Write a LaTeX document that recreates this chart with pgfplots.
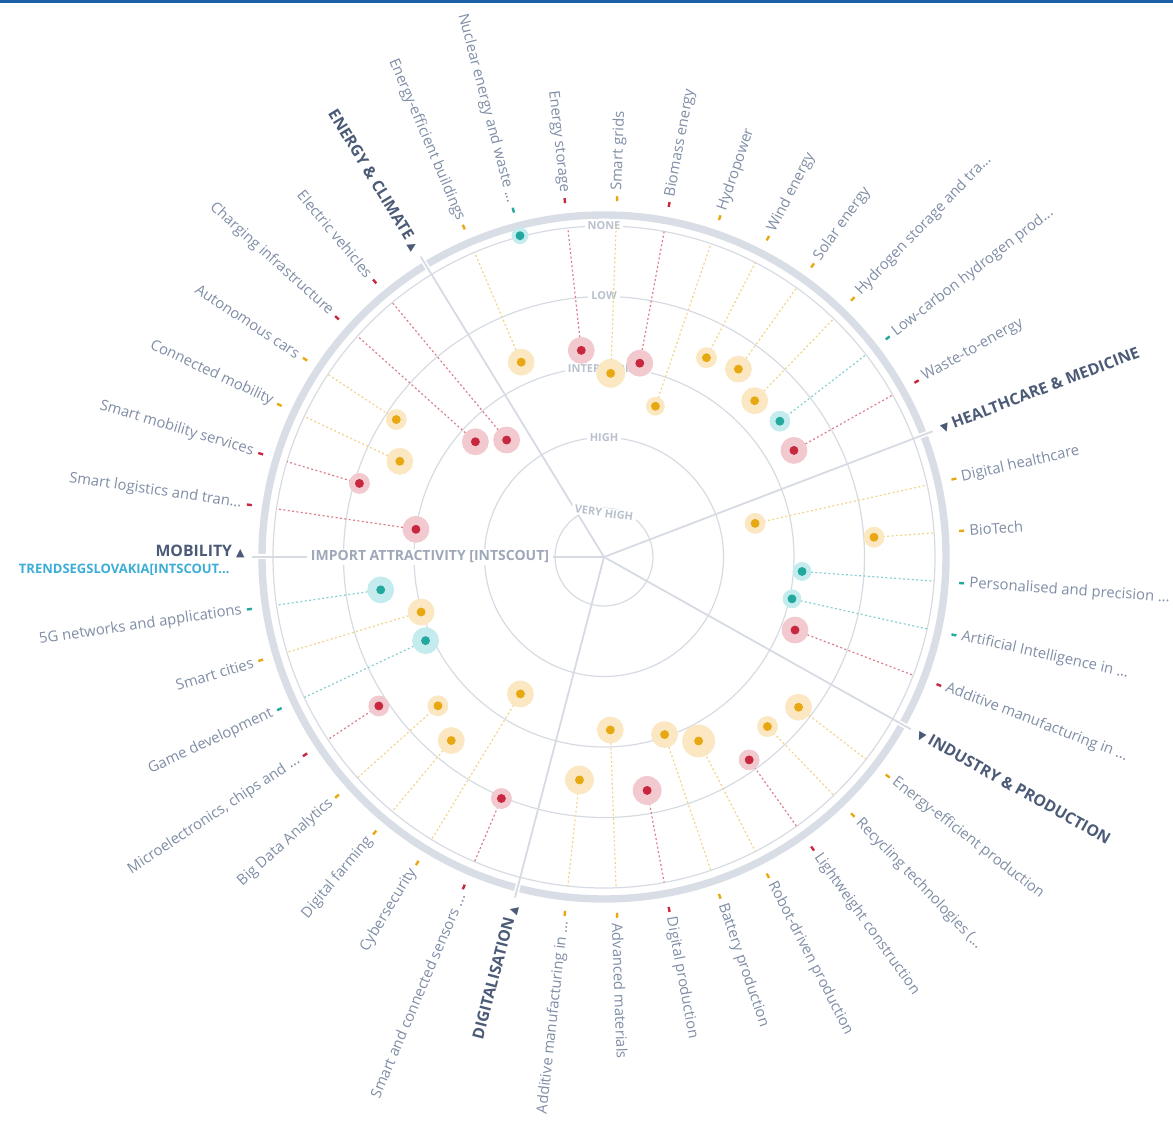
\documentclass[border=0pt]{standalone}
\usepackage{pgfplots}
\pgfplotsset{compat=1.18}
\usepackage{pgfplotstable}
\usepackage{fontspec}
\setmainfont{Open Sans}
\newfontfamily\dejavu{DejaVu Sans}

\definecolor{Yc}{HTML}{E8A812}
\definecolor{Yh}{HTML}{FBE8C2}
\definecolor{Yl}{HTML}{F2D48C}
\definecolor{Rc}{HTML}{C8283F}
\definecolor{Rh}{HTML}{F1C9CF}
\definecolor{Rl}{HTML}{DC7E8A}
\definecolor{Tc}{HTML}{23A89E}
\definecolor{Th}{HTML}{C4ECEE}
\definecolor{Tl}{HTML}{86D0D2}
\definecolor{gridc}{HTML}{D6DBE3}
\definecolor{ringc}{HTML}{D8DDE6}
\definecolor{labc}{HTML}{7F8DA5}
\definecolor{secc}{HTML}{4B5A76}
\definecolor{lvlc}{HTML}{B9C1CD}
\definecolor{impc}{HTML}{9EA8B9}
\definecolor{cyanc}{HTML}{3CADD6}
\definecolor{topc}{HTML}{1D5FA6}

% columns: angle (deg), radius (px from centre), halo radius (px)
\pgfplotstableread{
a r s
113.023 211.7 13
87.907 183.8 14
71.163 159.3 9
62.791 224.1 10
54.419 231.0 13
46.047 217.1 13
12.558 154.8 10
4.186 270.7 10
-37.674 245.8 13
-46.047 235.5 10
-62.791 206.9 16
-71.163 187.6 13
-87.907 173.1 13
-96.279 224.3 14
-121.395 160.4 13
-129.767 238.8 13
-138.140 223.0 10
-163.256 191.0 13
154.884 225.5 13
146.512 249.1 10
}\Ytab
\pgfplotstableread{
a r s
96.279 207.9 13
79.535 197.1 13
29.302 217.8 13
-20.930 204.5 13
-54.419 249.5 10
-79.535 237.4 14
-113.023 262.4 10
-146.512 270.0 10
171.628 190.1 13
163.256 255.4 10
138.140 172.7 13
129.767 152.2 13
}\Rtab
\pgfplotstableread{
a r s
104.651 332.1 8
37.674 222.2 10
-4.186 198.6 9
-12.558 192.6 9
-154.884 197.1 13
-171.628 225.7 13
}\Ttab

\newcommand{\tri}[1]{{\dejavu\fontsize{5.5}{6}\selectfont #1}}
\newcommand{\labR}[2]{\node[lab, anchor=west, rotate=#1] at (axis cs:{366*cos(#1)},{366*sin(#1)}) {#2};}
\newcommand{\labL}[2]{\node[lab, anchor=east, rotate=#1+180] at (axis cs:{366*cos(#1)},{366*sin(#1)}) {#2};}
\newcommand{\secR}[2]{\node[sec, anchor=west, rotate=#1] at (axis cs:{360*cos(#1)},{360*sin(#1)}) {#2};}
\newcommand{\secL}[2]{\node[sec, anchor=east, rotate=#1+180] at (axis cs:{360*cos(#1)},{360*sin(#1)}) {#2};}
\newcommand{\divline}[1]{%
  \draw[white, line width=2.5pt] (axis cs:{335*cos(#1)},{335*sin(#1)}) -- (axis cs:{349*cos(#1)},{349*sin(#1)});
  \draw[gridc, line width=0.9pt] (axis cs:0,0) -- (axis cs:{352*cos(#1)},{352*sin(#1)});}

\begin{document}
\begin{tikzpicture}[
  lab/.style={font=\fontsize{7.4}{8}\selectfont, text=labc, inner sep=0pt},
  sec/.style={font=\fontsize{7.9}{9}\selectfont\bfseries, text=secc, inner sep=0pt},
  lvl/.style={font=\fontsize{5.5}{6}\selectfont\bfseries, text=lvlc, fill=white, inner xsep=1.5pt, inner ysep=0.6pt}]
\begin{axis}[scale only axis, width=586.5pt, height=560.5pt,
  xmin=-604, xmax=569, ymin=-564, ymax=557, hide axis, clip=false]

\fill[topc] (axis cs:-604,554) rectangle (axis cs:569,557);

% grid circles
\draw[gridc, line width=0.6pt] (axis cs:0,0) circle[radius=49];
\draw[gridc, line width=0.6pt] (axis cs:0,0) circle[radius=119.5];
\draw[gridc, line width=0.6pt] (axis cs:0,0) circle[radius=190];
\draw[gridc, line width=0.6pt] (axis cs:0,0) circle[radius=260.5];
\draw[gridc, line width=0.6pt] (axis cs:0,0) circle[radius=331];
% outer ring
\draw[ringc, line width=3.7pt] (axis cs:0,0) circle[radius=342];
% sector dividers
\divline{121.395}
\divline{20.930}
\divline{-29.302}
\divline{-104.651}
\divline{180}

% level labels
\node[lvl] at (axis cs:0,331) {NONE};
\node[lvl] at (axis cs:0,261) {LOW};
\node[lvl] at (axis cs:4,188) {INTERMEDIATE};
\node[lvl] at (axis cs:0,119.5) {HIGH};
\node[lvl, rotate=-8] at (axis cs:0,44) {VERY HIGH};
\node[font=\fontsize{7}{8}\selectfont\bfseries, text=impc, fill=white, inner xsep=2pt, inner ysep=1pt] at (axis cs:-174,0) {IMPORT ATTRACTIVITY [INTSCOUT]};

% dotted leader lines
\addplot[Yl, line width=0.6pt, dash pattern=on 1pt off 1.2pt, mark=none,
  quiver={u={(331-\thisrow{r})*cos(\thisrow{a})}, v={(331-\thisrow{r})*sin(\thisrow{a})}}]
  table[x expr={\thisrow{r}*cos(\thisrow{a})}, y expr={\thisrow{r}*sin(\thisrow{a})}] {\Ytab};
\addplot[Rl, line width=0.6pt, dash pattern=on 1pt off 1.2pt, mark=none,
  quiver={u={(331-\thisrow{r})*cos(\thisrow{a})}, v={(331-\thisrow{r})*sin(\thisrow{a})}}]
  table[x expr={\thisrow{r}*cos(\thisrow{a})}, y expr={\thisrow{r}*sin(\thisrow{a})}] {\Rtab};
\addplot[Tl, line width=0.6pt, dash pattern=on 1pt off 1.2pt, mark=none,
  quiver={u={(331-\thisrow{r})*cos(\thisrow{a})}, v={(331-\thisrow{r})*sin(\thisrow{a})}}]
  table[x expr={\thisrow{r}*cos(\thisrow{a})}, y expr={\thisrow{r}*sin(\thisrow{a})}] {\Ttab};

% ring markers
\addplot[Yc, line width=1.2pt, mark=none, quiver={u={5*cos(\thisrow{a})}, v={5*sin(\thisrow{a})}}]
  table[x expr={356*cos(\thisrow{a})}, y expr={356*sin(\thisrow{a})}] {\Ytab};
\addplot[Rc, line width=1.2pt, mark=none, quiver={u={5*cos(\thisrow{a})}, v={5*sin(\thisrow{a})}}]
  table[x expr={356*cos(\thisrow{a})}, y expr={356*sin(\thisrow{a})}] {\Rtab};
\addplot[Tc, line width=1.2pt, mark=none, quiver={u={5*cos(\thisrow{a})}, v={5*sin(\thisrow{a})}}]
  table[x expr={356*cos(\thisrow{a})}, y expr={356*sin(\thisrow{a})}] {\Ttab};

% halos
\addplot[scatter, only marks, mark=*, scatter/use mapped color={draw=Yh, fill=Yh},
  visualization depends on={0.5*\thisrow{s} \as \hs},
  scatter/@pre marker code/.append style={/tikz/mark size=\hs}]
  table[x expr={\thisrow{r}*cos(\thisrow{a})}, y expr={\thisrow{r}*sin(\thisrow{a})}] {\Ytab};
\addplot[scatter, only marks, mark=*, scatter/use mapped color={draw=Rh, fill=Rh},
  visualization depends on={0.5*\thisrow{s} \as \hs},
  scatter/@pre marker code/.append style={/tikz/mark size=\hs}]
  table[x expr={\thisrow{r}*cos(\thisrow{a})}, y expr={\thisrow{r}*sin(\thisrow{a})}] {\Rtab};
\addplot[scatter, only marks, mark=*, scatter/use mapped color={draw=Th, fill=Th},
  visualization depends on={0.5*\thisrow{s} \as \hs},
  scatter/@pre marker code/.append style={/tikz/mark size=\hs}]
  table[x expr={\thisrow{r}*cos(\thisrow{a})}, y expr={\thisrow{r}*sin(\thisrow{a})}] {\Ttab};

% core dots
\addplot[only marks, mark=*, mark size=2pt, mark options={draw=Yc, fill=Yc}]
  table[x expr={\thisrow{r}*cos(\thisrow{a})}, y expr={\thisrow{r}*sin(\thisrow{a})}] {\Ytab};
\addplot[only marks, mark=*, mark size=2pt, mark options={draw=Rc, fill=Rc}]
  table[x expr={\thisrow{r}*cos(\thisrow{a})}, y expr={\thisrow{r}*sin(\thisrow{a})}] {\Rtab};
\addplot[only marks, mark=*, mark size=2pt, mark options={draw=Tc, fill=Tc}]
  table[x expr={\thisrow{r}*cos(\thisrow{a})}, y expr={\thisrow{r}*sin(\thisrow{a})}] {\Ttab};

% item labels
\labL{113.023}{Energy-efficient buildings}
\labL{104.651}{Nuclear energy and waste ...}
\labL{96.279}{Energy storage}
\labR{87.907}{Smart grids}
\labR{79.535}{Biomass energy}
\labR{71.163}{Hydropower}
\labR{62.791}{Wind energy}
\labR{54.419}{Solar energy}
\labR{46.047}{Hydrogen storage and tra...}
\labR{37.674}{Low-carbon hydrogen prod...}
\labR{29.302}{Waste-to-energy}
\labR{12.558}{Digital healthcare}
\labR{4.186}{BioTech}
\labR{-4.186}{Personalised and precision ...}
\labR{-12.558}{Artificial Intelligence in ...}
\labR{-20.930}{Additive manufacturing in ...}
\labR{-37.674}{Energy-efficient production}
\labR{-46.047}{Recycling technologies (...}
\labR{-54.419}{Lightweight construction}
\labR{-62.791}{Robot-driven production}
\labR{-71.163}{Battery production}
\labR{-79.535}{Digital production}
\labR{-87.907}{Advanced materials}
\labL{-96.279}{Additive manufacturing in ...}
\labL{-113.023}{Smart and connected sensors ...}
\labL{-121.395}{Cybersecurity}
\labL{-129.767}{Digital farming}
\labL{-138.140}{Big Data Analytics}
\labL{-146.512}{Microelectronics, chips and ...}
\labL{-154.884}{Game development}
\labL{-163.256}{Smart cities}
\labL{-171.628}{5G networks and applications}
\labL{171.628}{Smart logistics and tran...}
\labL{163.256}{Smart mobility services}
\labL{154.884}{Connected mobility}
\labL{146.512}{Autonomous cars}
\labL{138.140}{Charging infrastructure}
\labL{129.767}{Electric vehicles}

% sector labels
\secL{121.395}{ENERGY \& CLIMATE \tri{▲}}
\secR{20.930}{\tri{▼} HEALTHCARE \& MEDICINE}
\secR{-29.302}{\tri{▼} INDUSTRY \& PRODUCTION}
\secL{-104.651}{DIGITALISATION \tri{▲}}
\node[sec, anchor=south east] at (axis cs:-359,-1) {MOBILITY \tri{▲}};
\node[font=\fontsize{6.5}{7}\selectfont\bfseries, text=cyanc, inner sep=0pt, anchor=north east] at (axis cs:-374,-7) {TRENDSEGSLOVAKIA[INTSCOUT...};

\end{axis}
\pgfresetboundingbox
\path (current axis.south west) rectangle (current axis.north east);
\end{tikzpicture}
\end{document}
